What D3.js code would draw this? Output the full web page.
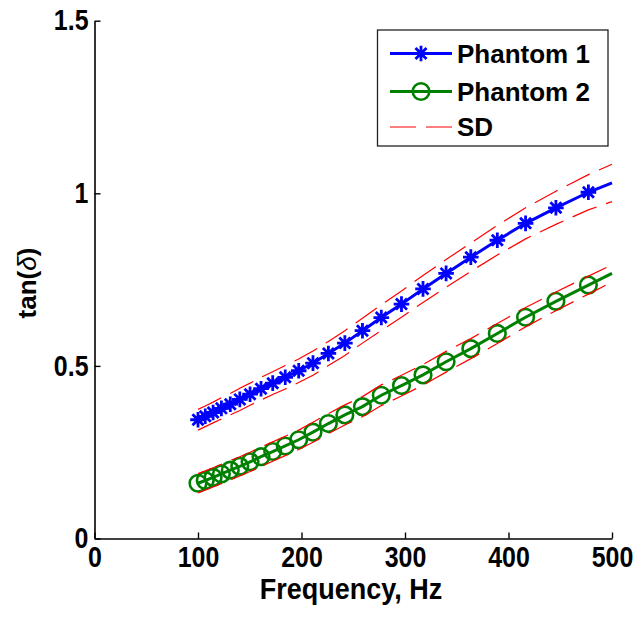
<!DOCTYPE html>
<html><head><meta charset="utf-8">
<script src="https://cdn.jsdelivr.net/npm/d3@7"></script>
<style>
body{margin:0;background:#fff}
text{font-family:"Liberation Sans",Arial,sans-serif;font-weight:bold;fill:#000}
</style>
</head><body><svg id="c" width="643" height="619"></svg>
<script>
// Frequencies (Hz): marker positions plus the line end at 500 Hz
const freq = [100,107.0,114.6,122.6,131.2,140.4,150.3,160.9,172.2,184.3,197.3,211.1,226.0,241.9,258.9,277.1,296.6,317.4,339.7,363.6,389.2,416.5,445.8,477.2,500];
const phantom1 = [0.344,0.354,0.365,0.377,0.389,0.403,0.418,0.434,0.450,0.467,0.486,0.508,0.536,0.566,0.602,0.640,0.679,0.723,0.768,0.815,0.864,0.913,0.958,1.003,1.030];
const phantom2 = [0.160,0.168,0.177,0.187,0.198,0.209,0.222,0.237,0.252,0.268,0.286,0.308,0.333,0.358,0.382,0.415,0.443,0.474,0.512,0.550,0.594,0.641,0.687,0.734,0.768];
const sd1 = [0.030,0.030,0.030,0.031,0.031,0.032,0.032,0.033,0.033,0.034,0.034,0.035,0.035,0.036,0.036,0.037,0.038,0.039,0.040,0.041,0.043,0.045,0.048,0.051,0.054];
const sd2 = [0.028,0.028,0.028,0.028,0.028,0.028,0.028,0.028,0.028,0.028,0.028,0.029,0.029,0.029,0.029,0.030,0.030,0.030,0.030,0.029,0.029,0.028,0.027,0.026,0.025];
const markerCount = 24; // markers drawn on the first 24 points
const xTicks = [0,100,200,300,400,500];
const yTicks = [0,0.5,1,1.5];
const yTickLabels = ["0","0.5","1","1.5"];
const seriesNames = ["Phantom 1","Phantom 2","SD"];

const svg = d3.select("#c");
const x = d3.scaleLinear().domain([0,500]).range([94.5,612]);
const y = d3.scaleLinear().domain([0,1.5]).range([538.5,20.7]);

// axes
const gx = svg.append("g").attr("transform","translate(0,538.5)")
  .call(d3.axisBottom(x).tickValues(xTicks).tickSizeInner(-6).tickSizeOuter(0).tickPadding(8));
const gy = svg.append("g").attr("transform","translate(94.5,0)")
  .call(d3.axisLeft(y).tickValues(yTicks).tickFormat((d,i)=>yTickLabels[i]).tickSizeInner(-6).tickSizeOuter(0).tickPadding(7));
[gx,gy].forEach(g=>{
  g.select(".domain").attr("stroke","#000").attr("stroke-width",1.6);
  g.selectAll(".tick line").attr("stroke","#000").attr("stroke-width",1.4);
  g.selectAll(".tick text").attr("font-size",29).attr("font-family",'"Liberation Sans",Arial,sans-serif')
    .attr("font-weight","bold").attr("transform","scale(0.86,1)");
});

// labels
svg.append("text").attr("transform","translate(351,599) scale(0.9,1)").attr("text-anchor","middle").attr("font-size",30).text("Frequency, Hz");
const yl = svg.append("text").attr("transform","translate(36,283) rotate(-90)").attr("text-anchor","middle").attr("font-size",26);
yl.append("tspan").text("tan(");
yl.append("tspan").attr("font-style","italic").attr("font-weight","normal").text("δ");
yl.append("tspan").text(")");

const line = d3.line().x(d=>x(d[0])).y(d=>y(d[1]));
const pts = (vals)=>freq.map((f,i)=>[f,vals[i]]);

const starPath = (r)=>{const d=r*0.7071;return `M${-r},0L${r},0M0,${-r}L0,${r}M${-d},${-d}L${d},${d}M${-d},${d}L${d},${-d}`;};

// Phantom 1
svg.append("path").attr("d",line(pts(phantom1))).attr("fill","none").attr("stroke","#0000ff").attr("stroke-width",3);
svg.append("g").selectAll("path").data(pts(phantom1).slice(0,markerCount)).join("path")
  .attr("transform",d=>`translate(${x(d[0])},${y(d[1])})`).attr("d",starPath(7.8))
  .attr("stroke","#0000ff").attr("stroke-width",2.8).attr("fill","none");

// Phantom 2
svg.append("path").attr("d",line(pts(phantom2))).attr("fill","none").attr("stroke","#008000").attr("stroke-width",3);
svg.append("g").selectAll("circle").data(pts(phantom2).slice(0,markerCount)).join("circle")
  .attr("cx",d=>x(d[0])).attr("cy",d=>y(d[1])).attr("r",8.3)
  .attr("stroke","#008000").attr("stroke-width",2.6).attr("fill","none");

// SD bands
const sdLines = [
  freq.map((f,i)=>[f,phantom1[i]+sd1[i]]),
  freq.map((f,i)=>[f,phantom1[i]-sd1[i]]),
  freq.map((f,i)=>[f,phantom2[i]+sd2[i]]),
  freq.map((f,i)=>[f,phantom2[i]-sd2[i]])
];
svg.append("g").selectAll("path").data(sdLines).join("path")
  .attr("d",d=>line(d)).attr("fill","none").attr("stroke","#ff0000").attr("stroke-width",1.2).attr("stroke-dasharray","26,10");

// legend
const lg = svg.append("g");
lg.append("rect").attr("x",377.5).attr("y",30).attr("width",230.5).attr("height",116).attr("fill","#fff").attr("stroke","#222").attr("stroke-width",1.3);
const rows = [53.5,91.5,127];
const lx0=390, lx1=452, lxm=421;
lg.append("line").attr("x1",lx0).attr("x2",lx1).attr("y1",rows[0]).attr("y2",rows[0]).attr("stroke","#0000ff").attr("stroke-width",3);
lg.append("path").attr("transform",`translate(${lxm},${rows[0]})`).attr("d",starPath(7.8)).attr("stroke","#0000ff").attr("stroke-width",2.8);
lg.append("line").attr("x1",lx0).attr("x2",lx1).attr("y1",rows[1]).attr("y2",rows[1]).attr("stroke","#008000").attr("stroke-width",3);
lg.append("circle").attr("cx",lxm).attr("cy",rows[1]).attr("r",8.3).attr("stroke","#008000").attr("stroke-width",2.6).attr("fill","none");
lg.append("line").attr("x1",lx0).attr("x2",lx1).attr("y1",rows[2]).attr("y2",rows[2]).attr("stroke","#ff0000").attr("stroke-width",1.2).attr("stroke-dasharray","26,10");
seriesNames.forEach((n,i)=>{
  lg.append("text").attr("x",457).attr("y",rows[i]).attr("dy","0.36em").attr("font-size",26).text(n);
});
</script>
</body></html>
